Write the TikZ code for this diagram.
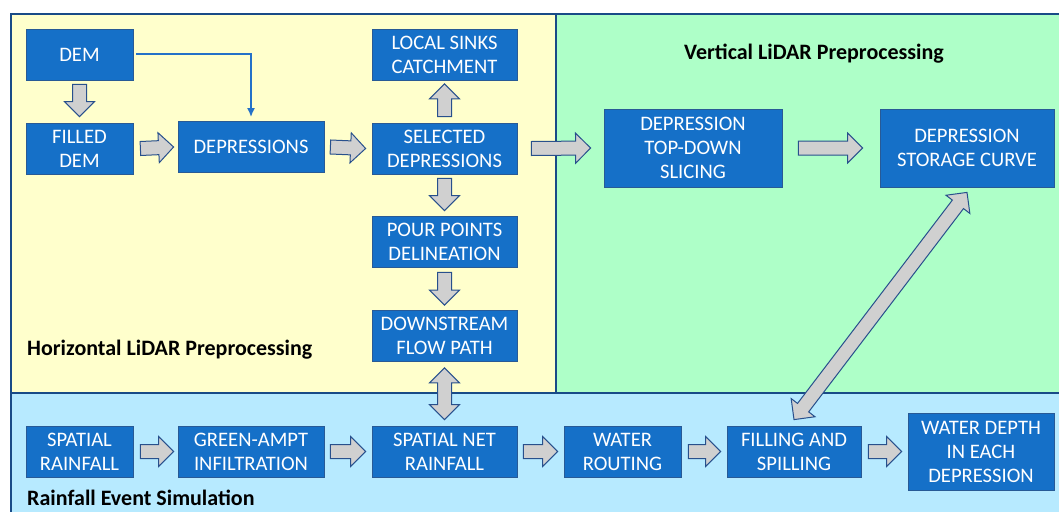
\documentclass[tikz,border=0pt]{standalone}
\usepackage{fontspec}
\setmainfont{Carlito}
\usetikzlibrary{calc, arrows.meta, positioning}
\usepackage{xcolor}

\definecolor{boxblue}{RGB}{21,112,200}
\definecolor{boxline}{RGB}{40,90,150}
\definecolor{framecol}{RGB}{25,75,135}
\definecolor{bgyellow}{RGB}{255,255,204}
\definecolor{bggreen}{RGB}{174,255,200}
\definecolor{bgblue}{RGB}{183,234,255}
\definecolor{arrfill}{RGB}{208,208,208}
\definecolor{arrline}{RGB}{40,80,140}
\definecolor{linkblue}{RGB}{36,113,200}

% block arrow, one head
\newcommand{\fatarrow}[2]{%
	\coordinate (fa1) at (#1); \coordinate (fa2) at (#2);
	\coordinate (fb) at ($(fa2)!15pt!(fa1)$);
	\draw[fat] ($(fa1)!7pt!90:(fa2)$) -- ($(fb)!7pt!90:(fa2)$) -- ($(fb)!15pt!90:(fa2)$) -- (fa2)
		-- ($(fb)!15pt!-90:(fa2)$) -- ($(fb)!7pt!-90:(fa2)$) -- ($(fa1)!7pt!-90:(fa2)$) -- cycle;
}
% block arrow, two heads
\newcommand{\fatdouble}[2]{%
	\coordinate (fa1) at (#1); \coordinate (fa2) at (#2);
	\coordinate (fb) at ($(fa2)!15pt!(fa1)$);
	\coordinate (fc) at ($(fa1)!15pt!(fa2)$);
	\draw[fat] (fa1) -- ($(fc)!15pt!90:(fa2)$) -- ($(fc)!7pt!90:(fa2)$) -- ($(fb)!7pt!90:(fa2)$) -- ($(fb)!15pt!90:(fa2)$) -- (fa2)
		-- ($(fb)!15pt!-90:(fa2)$) -- ($(fb)!7pt!-90:(fa2)$) -- ($(fc)!7pt!-90:(fa2)$) -- ($(fc)!15pt!-90:(fa2)$) -- cycle;
}

\begin{document}
\begin{tikzpicture}[x = 1pt, y = -1pt, font = \fontsize{20.6}{24}\selectfont]
			\tikzstyle{box} = [draw=boxline, line width=0.8pt, fill=boxblue, text=white, align=center, inner sep=0pt, minimum width=146pt, minimum height=51pt]
			\tikzstyle{fat} = [draw=arrline, line width=1pt, fill=arrfill, line join=miter]
			\tikzstyle{link} = [draw=linkblue, line width=2pt, -{Latex[length=9pt, width=8pt]}]
			\tikzstyle{title} = [font=\fontsize{22}{26}\selectfont\bfseries, inner sep=0pt]

			\useasboundingbox (0, 0) rectangle (1059, 511);
			\clip (0, 0) rectangle (1059, 511);

			% the three panels
			\fill[bgyellow]	(11, 14) rectangle (556, 393);
			\fill[bggreen]	(556, 14) rectangle (1070, 393);
			\fill[bgblue]	(11, 393) rectangle (1070, 520);
			\draw[framecol, line width=2.5pt] (11, 520) |- (1070, 14);
			\draw[framecol, line width=2.5pt] (556, 14) -- (556, 393);
			\draw[framecol, line width=2.5pt] (11, 393) -- (1070, 393);

			\node[title, anchor=west]	at (27, 350)	(htitle)	{Horizontal LiDAR Preprocessing};
			\node[title]				at (814, 54)	(vtitle)	{Vertical LiDAR Preprocessing};
			\node[title, anchor=west]	at (27, 498)	(rtitle)	{Rainfall Event Simulation};

			% horizontal preprocessing
			\node[box, minimum width=107pt]	at (79.5, 54.5)		(dem)		{DEM};
			\node[box, minimum width=107pt]	at (79.5, 148.5)	(filled)	{FILLED\\DEM};
			\node[box]						at (251, 147)		(depr)		{DEPRESSIONS};
			\node[box, minimum width=145pt]	at (444.5, 55)		(sinks)		{LOCAL SINKS\\CATCHMENT};
			\node[box, minimum width=145pt]	at (444.5, 148.5)	(sel)		{SELECTED\\DEPRESSIONS};
			\node[box, minimum width=145pt]	at (444.5, 241.5)	(pour)		{POUR POINTS\\DELINEATION};
			\node[box, minimum width=145pt]	at (444.5, 336)		(down)		{DOWNSTREAM\\FLOW PATH};

			% vertical preprocessing
			\node[box, minimum width=178pt, minimum height=78pt]	at (693, 148)	(slice)	{DEPRESSION\\TOP-DOWN\\SLICING};
			\node[box, minimum width=174pt, minimum height=78pt]	at (967, 148)	(curve)	{DEPRESSION\\STORAGE CURVE};

			% rainfall event
			\node[box, minimum width=107pt]	at (79.5, 451.5)	(srain)		{SPATIAL\\RAINFALL};
			\node[box]						at (251, 451.5)		(green)		{GREEN-AMPT\\INFILTRATION};
			\node[box, minimum width=145pt]	at (444.5, 451.5)	(net)		{SPATIAL NET\\RAINFALL};
			\node[box, minimum width=117pt]	at (622.5, 451.5)	(route)		{WATER\\ROUTING};
			\node[box, minimum width=134pt]	at (794, 451.5)		(fill)		{FILLING AND\\SPILLING};
			\node[box, minimum width=146pt, minimum height=77pt]	at (981, 451.5)	(depth)	{WATER DEPTH\\IN EACH\\DEPRESSION};

			\draw[link] ([xshift=3pt]dem.east) -| ([yshift=4pt]depr.north);

			\fatarrow{[yshift=-4pt]dem.south}{[yshift=6pt]filled.north}
			\fatarrow{[xshift=7pt]filled.east}{[xshift=-4pt]depr.west}
			\fatarrow{[xshift=6pt]depr.east}{[xshift=-6pt]sel.west}
			\fatarrow{[yshift=6pt]sel.north}{[yshift=-3pt]sinks.south}
			\fatarrow{[yshift=-4pt]sel.south}{[yshift=5pt]pour.north}
			\fatarrow{[yshift=-5pt]pour.south}{[yshift=5pt]down.north}
			\fatarrow{[xshift=14pt]sel.east}{[xshift=-13pt]slice.west}
			\fatarrow{[xshift=16pt]slice.east}{[xshift=-17pt]curve.west}
			\fatdouble{[yshift=-6pt]down.south}{[yshift=6pt]net.north}
			\fatdouble{[yshift=6pt]fill.north}{[yshift=-5pt]curve.south}

			\fatarrow{[xshift=7pt]srain.east}{[xshift=-4pt]green.west}
			\fatarrow{[xshift=6pt]green.east}{[xshift=-6pt]net.west}
			\fatarrow{[xshift=6pt]net.east}{[xshift=-6pt]route.west}
			\fatarrow{[xshift=7pt]route.east}{[xshift=-6pt]fill.west}
			\fatarrow{[xshift=7pt]fill.east}{[xshift=-6pt]depth.west}
		\end{tikzpicture}
\end{document}
